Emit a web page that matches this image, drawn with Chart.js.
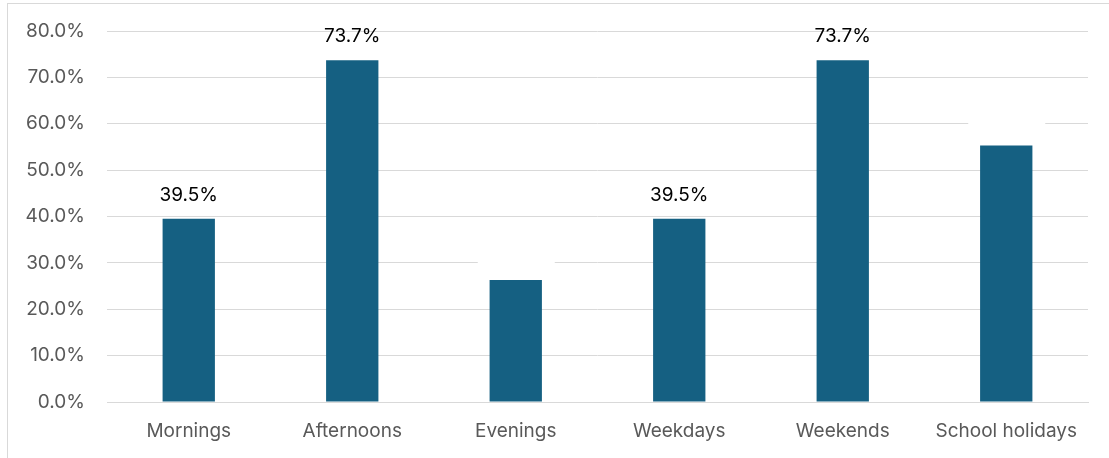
<!DOCTYPE html>
<html>
<head>
<meta charset="utf-8">
<script src="https://cdn.jsdelivr.net/npm/chart.js@4.4.1/dist/chart.umd.min.js"></script>
<style>
  html, body { margin: 0; padding: 0; background: #fff; }
  #wrap {
    position: absolute; left: 7px; top: 3px;
    width: 1102px; height: 455px;
    border-left: 1px solid #d9d9d9; border-top: 1px solid #d9d9d9;
  }
  canvas { display: block; }
</style>
</head>
<body>
<div id="wrap"><canvas id="chart" width="1101" height="454"></canvas></div>
<script>
const categories = ['Mornings', 'Afternoons', 'Evenings', 'Weekdays', 'Weekends', 'School holidays'];
const shares = [39.5, 73.7, 26.3, 39.5, 73.7, 55.3];
// labels on Evenings and School holidays are white in the original (only a gap in the gridline shows)
const labelColours = ['#000', '#000', '#fff', '#000', '#000', '#fff'];
const yTicks = [0, 10, 20, 30, 40, 50, 60, 70, 80];

const fontFamily = "Inter, 'Open Sans', sans-serif";

const valueLabels = {
  id: 'valueLabels',
  afterDatasetsDraw(chart) {
    const ctx = chart.ctx;
    const meta = chart.getDatasetMeta(0);
    ctx.save();
    ctx.font = '19px ' + fontFamily;
    ctx.textAlign = 'center';
    ctx.textBaseline = 'middle';
    meta.data.forEach((bar, i) => {
      const y = bar.y - 24;
      if (labelColours[i] === '#fff') {
        ctx.fillStyle = '#fff';
        ctx.fillRect(bar.x - 38, y - 11, 77, 22);
      }
      ctx.fillStyle = labelColours[i];
      ctx.fillText(shares[i].toFixed(1) + '%', bar.x, y);
    });
    ctx.restore();
  }
};

new Chart(document.getElementById('chart'), {
  type: 'bar',
  data: {
    labels: categories,
    datasets: [{
      data: shares,
      backgroundColor: '#156082',
      categoryPercentage: 1,
      barPercentage: 0.32
    }]
  },
  options: {
    responsive: false,
    animation: false,
    layout: { padding: { top: 27, right: 21, left: 0, bottom: 0 } },
    plugins: { legend: { display: false }, tooltip: { enabled: false } },
    scales: {
      x: {
        grid: { display: false, drawTicks: false },
        border: { color: '#d9d9d9', width: 1 },
        ticks: { color: '#595959', font: { size: 19, family: fontFamily }, padding: 18, maxRotation: 0 },
        afterFit(scale) { scale.height = 56; scale.paddingLeft = 0; scale.paddingRight = 0; }
      },
      y: {
        min: 0, max: 80,
        afterBuildTicks(scale) { scale.ticks = yTicks.map(v => ({ value: v })); },
        grid: { color: '#d9d9d9', drawTicks: false },
        border: { display: false },
        ticks: {
          color: '#595959', font: { size: 19, family: fontFamily }, padding: 22,
          callback: v => v.toFixed(1) + '%'
        },
        afterFit(scale) { scale.width = 99; scale.paddingTop = 0; scale.paddingBottom = 0; }
      }
    }
  },
  plugins: [valueLabels]
});
</script>
</body>
</html>
